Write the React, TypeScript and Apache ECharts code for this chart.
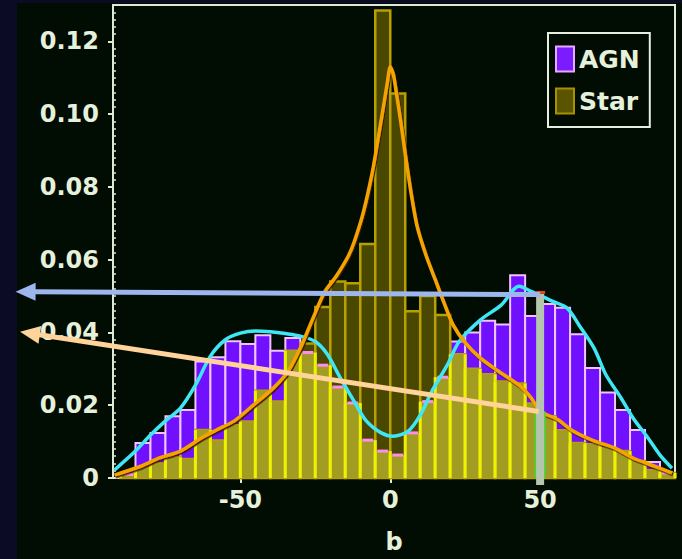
import React, { useEffect, useRef } from 'react';
import * as echarts from 'echarts';

// ---------- data ----------
const binLeft = [-90, -85, -80, -75, -70, -65, -60, -55, -50, -45, -40, -35, -30, -25, -20, -15, -10, -5, 0, 5, 10, 15, 20, 25, 30, 35, 40, 45, 50, 55, 60, 65, 70, 75, 80, 85, 90];
const binWidth = 5;
const agnHist = [0.0010, 0.0096, 0.0124, 0.0170, 0.0187, 0.0320, 0.0332, 0.0376, 0.0368, 0.0392, 0.0350, 0.0385, 0.0345, 0.0310, 0.0250, 0.0206, 0.0104, 0.0074, 0.0063, 0.0124, 0.0210, 0.0277, 0.0375, 0.0400, 0.0432, 0.0422, 0.0557, 0.0445, 0.0478, 0.0468, 0.0395, 0.0302, 0.0235, 0.0187, 0.0132, 0.0044, 0.0014];
const starHist = [0.0014, 0.0028, 0.0040, 0.0057, 0.0052, 0.0132, 0.0103, 0.0145, 0.0155, 0.0240, 0.0210, 0.0350, 0.0370, 0.0470, 0.0540, 0.0535, 0.0643, 0.1285, 0.1057, 0.0458, 0.0500, 0.0448, 0.0340, 0.0300, 0.0285, 0.0265, 0.0260, 0.0205, 0.0170, 0.0131, 0.0096, 0.0093, 0.0082, 0.0074, 0.0047, 0.0021, 0.0014];

const agnCurveX = [-92, -85, -80, -75, -70, -65, -60, -55, -50, -45, -40, -35, -30, -25, -21, -17, -12, -8, -3, 1, 6, 10, 14, 19, 23, 30, 37, 43, 47, 50, 54, 59, 63, 68, 72, 77, 81, 86, 90, 94];
const agnCurveY = [0.0022, 0.0074, 0.0118, 0.0157, 0.0192, 0.0255, 0.0335, 0.0380, 0.0398, 0.0404, 0.0402, 0.0397, 0.0390, 0.0375, 0.0340, 0.0280, 0.0210, 0.0157, 0.0124, 0.0115, 0.0129, 0.0173, 0.0240, 0.0310, 0.0375, 0.0434, 0.0475, 0.0527, 0.0513, 0.0502, 0.0486, 0.0467, 0.0420, 0.0357, 0.0283, 0.0220, 0.0165, 0.0110, 0.0063, 0.0027];

const starCurveX = [-92, -83, -77, -70, -63, -58, -52, -46, -39, -34, -30, -26, -22, -18, -14, -12, -9, -6, -4, -2, -1, 0, 1, 2, 3.5, 5, 7, 9, 12, 15, 18, 21, 25, 30, 36, 43, 47, 50, 56, 61, 68, 75, 81, 88, 94];
const starCurveY = [0.0008, 0.0033, 0.0055, 0.0074, 0.0110, 0.0132, 0.0157, 0.0198, 0.0247, 0.0294, 0.0357, 0.0435, 0.0510, 0.0555, 0.0610, 0.0650, 0.0730, 0.0840, 0.0935, 0.1035, 0.1085, 0.1130, 0.1110, 0.1060, 0.0980, 0.0890, 0.0780, 0.0690, 0.0610, 0.0545, 0.0480, 0.0420, 0.0372, 0.0330, 0.0294, 0.0255, 0.0220, 0.0184, 0.0160, 0.0129, 0.0102, 0.0082, 0.0055, 0.0033, 0.0014];

const yTickValues = [0, 0.02, 0.04, 0.06, 0.08, 0.1, 0.12];
const yTickLabels = ['0', '0.02', '0.04', '0.06', '0.08', '0.10', '0.12'];
const xTickValues = [-50, 0, 50];
const xTickLabels = ['-50', '0', '50'];
const xMinorTicks = [-90, -80, -70, -60, -40, -30, -20, -10, 10, 20, 30, 40, 60, 70, 80, 90];
const yMinorTicks: number[] = [];
for (let i = 1; i < 65; i++) if (i % 10 !== 0) yMinorTicks.push(+(i * 0.002).toFixed(3));

const seriesNames = ['AGN', 'Star'];
const xLabelName = 'b';

// annotations (data coordinates)
const blueArrow = { from: [50, 0.0504], to: [-125, 0.0512] };
const peachArrow = { from: [49.5, 0.0183], to: [-123.5, 0.0402] };
const markerBar = { x: 50, top: 0.0506, bottom: -0.0019, greenTop: 0.0183 };

const TEXT = '#e6f1dc';
const FONT = 'DejaVu Sans';
const AXIS = '#dfe9d6';

export default function App() {
  const ref = useRef<HTMLDivElement>(null);
  useEffect(() => {
    if (!ref.current) return;
    const chart = echarts.init(ref.current, null, { renderer: 'svg' });
    const histData = binLeft.map((l, i) => [l, l + binWidth, agnHist[i], starHist[i]]);

    const rectOf = (api: any, v: number) => {
      const p0 = api.coord([api.value(0), 0]);
      const p1 = api.coord([api.value(1), v]);
      return { x: p0[0], y: p1[1], width: p1[0] - p0[0], height: p0[1] - p1[1] };
    };

    const option: any = {
      animation: false,
      backgroundColor: '#010c02',
      textStyle: { fontFamily: FONT },
      grid: { left: 113, right: 7, top: 5, bottom: 79, show: true, borderColor: AXIS, borderWidth: 2, backgroundColor: 'transparent' },
      legend: {
        left: 548, top: 33, orient: 'vertical',
        padding: [11, 10, 11, 7], itemGap: 12, itemWidth: 18, itemHeight: 25,
        borderColor: '#e6efdf', borderWidth: 2,
        textStyle: { color: TEXT, fontSize: 25, fontWeight: 'bold', fontFamily: FONT, lineHeight: 30 },
        data: [
          { name: seriesNames[0], icon: 'rect', itemStyle: { color: '#7a1cff', borderColor: '#e8a8ff', borderWidth: 2 } },
          { name: seriesNames[1], icon: 'rect', itemStyle: { color: '#5a5300', borderColor: '#a89000', borderWidth: 2 } },
        ],
      },
      xAxis: [
        {
          type: 'value', min: -92.5, max: 95, position: 'bottom',
          name: xLabelName, nameLocation: 'middle', nameGap: 52,
          nameTextStyle: { color: TEXT, fontSize: 24, fontWeight: 'bold', fontFamily: FONT },
          axisLine: { show: true, onZero: false, lineStyle: { color: AXIS, width: 2 } },
          axisTick: { show: true, customValues: xTickValues, length: 5, lineStyle: { color: AXIS, width: 2 } },
          axisLabel: { customValues: xTickValues, formatter: (v: number) => xTickLabels[xTickValues.indexOf(v)] ?? String(v), color: TEXT, fontSize: 24, fontWeight: 'bold', fontFamily: FONT, margin: 10 },
          splitLine: { show: false },
        },
        {
          type: 'value', min: -92.5, max: 95, position: 'bottom',
          axisLine: { show: false, onZero: false },
          axisTick: { show: true, inside: true, customValues: xMinorTicks, length: 4, lineStyle: { color: AXIS, width: 2 } },
          axisLabel: { show: false },
          splitLine: { show: false },
        },
      ],
      yAxis: [
        {
          type: 'value', min: 0, max: 0.13, position: 'left',
          axisLine: { show: true, onZero: false, lineStyle: { color: AXIS, width: 2 } },
          axisTick: { show: true, customValues: yTickValues, length: 5, lineStyle: { color: AXIS, width: 2 } },
          axisLabel: { customValues: yTickValues, formatter: (v: number) => yTickLabels[yTickValues.indexOf(v)] ?? String(v), color: TEXT, fontSize: 24, fontWeight: 'bold', fontFamily: FONT, margin: 14 },
          splitLine: { show: false },
        },
        {
          type: 'value', min: 0, max: 0.13, position: 'left',
          axisLine: { show: false, onZero: false },
          axisTick: { show: true, inside: true, customValues: yMinorTicks, length: 3, lineStyle: { color: AXIS, width: 1.5 } },
          axisLabel: { show: false },
          splitLine: { show: false },
        },
      ],
      series: [
        {
          name: seriesNames[0], type: 'custom', data: histData, encode: { x: [0, 1], y: [2] },
          renderItem: (_p: any, api: any) => ({
            type: 'rect', shape: rectOf(api, api.value(2)),
            style: { fill: '#7010ff', stroke: '#f2c4ff', lineWidth: 2 },
          }),
        },
        {
          name: seriesNames[1], type: 'custom', data: histData, encode: { x: [0, 1], y: [3] },
          renderItem: (_p: any, api: any) => ({
            type: 'rect', shape: rectOf(api, api.value(3)),
            style: { fill: '#4a4800', stroke: '#b8a000', lineWidth: 2.5 },
          }),
        },
        {
          name: 'overlap', type: 'custom', data: histData, encode: { x: [0, 1], y: [2] },
          renderItem: (_p: any, api: any) => {
            const a = api.value(2), s = api.value(3);
            const r = rectOf(api, Math.min(a, s));
            const children: any[] = [
              { type: 'rect', shape: r, style: { fill: '#a29d22' } },
              { type: 'line', shape: { x1: r.x, y1: r.y, x2: r.x, y2: r.y + r.height }, style: { stroke: '#eef200', lineWidth: 3 } },
              { type: 'line', shape: { x1: r.x + r.width, y1: r.y, x2: r.x + r.width, y2: r.y + r.height }, style: { stroke: '#eef200', lineWidth: 3 } },
            ];
            if (a <= s) {
              children.push({ type: 'line', shape: { x1: r.x + 2, y1: r.y, x2: r.x + r.width - 2, y2: r.y }, style: { stroke: '#ff8cf0', lineWidth: 3 } });
            }
            return { type: 'group', children };
          },
        },
        {
          name: 'agnKde', type: 'line', showSymbol: false, smooth: 0.3,
          data: agnCurveX.map((x, i) => [x, agnCurveY[i]]),
          lineStyle: { color: '#3fe6f6', width: 3.5 },
          z: 5,
        },
        {
          name: 'starKde', type: 'line', showSymbol: false, smooth: 0.25,
          data: starCurveX.map((x, i) => [x, starCurveY[i]]),
          lineStyle: { color: '#f5a300', width: 3.5, shadowColor: 'rgba(60,25,0,0.95)', shadowOffsetY: 1.5, shadowOffsetX: 1, shadowBlur: 1 },
          z: 5,
        },
      ],
    };
    chart.setOption(option);

    const px = (p: number[]) => chart.convertToPixel({ seriesIndex: 3 }, p) as number[];
    const arrow = (a: { from: number[]; to: number[] }, color: string) => {
      const S = px(a.from), T = px(a.to);
      const dx = T[0] - S[0], dy = T[1] - S[1];
      const len = Math.hypot(dx, dy);
      const ux = dx / len, uy = dy / len;
      const L = 20, W = 9;
      const B = [T[0] - ux * L, T[1] - uy * L];
      const nx = -uy, ny = ux;
      return [
        { type: 'line', z: 100, shape: { x1: S[0], y1: S[1], x2: B[0] + ux * 2, y2: B[1] + uy * 2 }, style: { stroke: color, lineWidth: 5 } },
        { type: 'polygon', z: 100, shape: { points: [T, [B[0] + nx * W, B[1] + ny * W], [B[0] - nx * W, B[1] - ny * W]] }, style: { fill: color } },
      ];
    };
    const top = px([markerBar.x, markerBar.top]);
    const bot = px([markerBar.x, markerBar.bottom]);
    const gTop = px([markerBar.x, markerBar.greenTop]);
    const graphic: any[] = [
      { type: 'rect', z: 0, shape: { x: 0, y: 0, width: 17, height: 559 }, style: { fill: '#0c0b26' } },
      { type: 'rect', z: 0, shape: { x: 0, y: 0, width: 682, height: 3 }, style: { fill: '#0c0b26' } },
      { type: 'rect', z: 99, shape: { x: gTop[0] - 5.5, y: gTop[1], width: 11, height: px([0, 0])[1] - gTop[1] }, style: { fill: '#3ed83a' } },
      { type: 'rect', z: 100, shape: { x: top[0] - 4, y: top[1], width: 8, height: bot[1] - top[1] }, style: { fill: '#b6c6ae' } },
      { type: 'rect', z: 100, shape: { x: top[0] - 4, y: top[1] - 3, width: 9, height: 3 }, style: { fill: '#e04a22' } },
      ...arrow(blueArrow, '#9db7ee'),
      ...arrow(peachArrow, '#ffd39a'),
    ];
    chart.setOption({ graphic });

    return () => chart.dispose();
  }, []);
  return <div ref={ref} style={{ position: 'fixed', left: 0, top: 0, width: 682, height: 559 }} />;
}
